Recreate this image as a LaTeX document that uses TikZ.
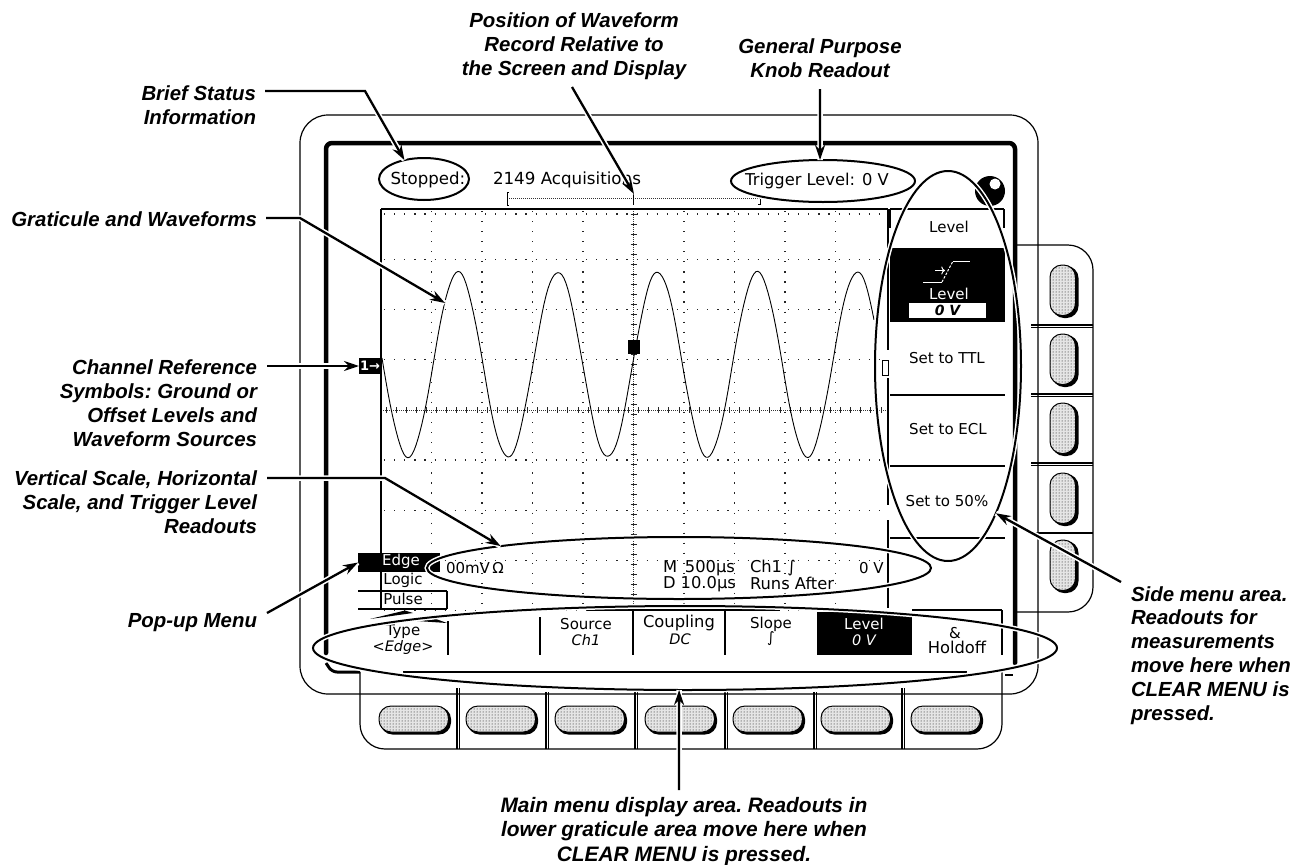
\documentclass[tikz,border=0pt]{standalone}
\usepackage{fontspec}
\usetikzlibrary{arrows.meta,patterns,shapes.geometric}
\setmainfont{Liberation Sans}
\newfontfamily\uifont{DejaVu Sans}
\tikzset{
  lab/.style={font=\frenchspacing\fontsize{20.4}{23.9}\selectfont\bfseries\itshape,inner sep=0pt,outer sep=0pt},
  labmain/.style={font=\frenchspacing\fontsize{20.9}{24.3}\selectfont\bfseries\itshape,inner sep=0pt,outer sep=0pt},
  ui/.style={font=\uifont\fontsize{15}{17}\selectfont,inner sep=0pt,outer sep=0pt},
  uib/.style={font=\uifont\fontsize{16.3}{17}\selectfont,inner sep=0pt,outer sep=0pt},
  uii/.style={font=\uifont\itshape\fontsize{14.5}{17}\selectfont,inner sep=0pt,outer sep=0pt},
  uiw/.style={ui,text=white},
  house/.style={line width=1.2pt,black},
  bezel/.style={line width=4.5pt,black,line cap=round},
  thin line/.style={line width=1.2pt,black},
  griddotv/.style={line width=1.1pt,dash pattern=on 1.2pt off 8.85pt,black!85},
  griddoth/.style={line width=1.1pt,dash pattern=on 1.2pt off 8.9pt,black!85},
  finedot/.style={line width=0.8pt,dash pattern=on 1pt off 1pt,black!80},
  oval/.style={shape=ellipse,draw=black,line width=2pt,inner sep=0pt,outer sep=0pt,
     preaction={draw=white,line width=5pt}},
  callout/.style={line width=2.3pt,black,-{Stealth[length=15pt,width=10pt]},
     preaction={draw=white,line width=5.5pt,-}},
  blackbox/.style={fill=black,inner sep=0pt,outer sep=0pt},
  btnshadow/.style={fill=black,rounded corners=12pt},
  btnface/.style={fill=black!10,draw=black,line width=1pt,rounded corners=12pt},
  btndots/.style={pattern=dots,pattern color=black,rounded corners=12pt},
}
\begin{document}
\begin{tikzpicture}[x=1pt,y=-1pt]
\useasboundingbox (0,0) rectangle (1294,865);
\fill[white] (0,0) rectangle (1294,865);

% housing
\draw[house,rounded corners=28pt] (300,115) rectangle (1038,694);
% side panel
\draw[house,rounded corners=25pt] (1015,245) -- (1093,245) -- (1093,612) -- (1015,612);
\draw[thin line] (1031,325) -- (1093,325) (1031,327.5) -- (1093,327.5);
\draw[thin line] (1031,394) -- (1093,394) (1031,396.5) -- (1093,396.5);
\draw[thin line] (1031,463) -- (1093,463) (1031,465.5) -- (1093,465.5);
\draw[thin line] (1031,533) -- (1093,533);
% bottom panel
\draw[house,rounded corners=25pt] (360,672) -- (360,749) -- (1002,749) -- (1002,672);
\foreach \x/\t in {457/688,546/692,635/692,725/692,814/692,902/688}{
  \draw[thin line] (\x,\t) -- (\x,749) (\x+2.5,\t) -- (\x+2.5,749);
}
% bezel
\draw[bezel,rounded corners=6pt] (326,653) -- (326,143) -- (1015,143) -- (1015,663);
\draw[line width=3pt,black,rounded corners=5pt] (326,663) -- (332,672) -- (360,672);
\draw[line width=1.8pt,black] (403,672) -- (967,672);
\draw[line width=2pt,black] (1005,675) -- (1013,675);
% knob
\fill[black] (990,191) circle[radius=15];
\fill[white] (995,184) circle[radius=5.5];

% side buttons
\foreach \a/\b in {265/318,334/387,403/456,473/526,540/593}{
  \fill[btnshadow] (1052,\a+1) rectangle (1078.5,\b);
  \draw[btnface] (1050,\a) rectangle (1075.5,\b-2.5);
  \fill[btndots] (1050,\a) rectangle (1075.5,\b-2.5);
}
% bottom buttons
\foreach \a in {379,466,555,645,733,821,911}{
  \fill[btnshadow] (\a+1.5,707) rectangle (\a+72,734.5);
  \draw[btnface] (\a,706) rectangle (\a+69.5,732);
  \fill[btndots] (\a,706) rectangle (\a+69.5,732);
}

% graticule
\draw[griddotv] foreach \i in {1,2,3,4,6,7,8,9} { (381+50.5*\i,211) -- (381+50.5*\i,610) };
\draw[griddoth] foreach \j in {1,2,3,5,6,7,8} { (384,209+50.2*\j) -- (886,209+50.2*\j) };
\draw[griddoth] (384,214) -- (886,214);
\draw[finedot] (633.5,209) -- (633.5,610);
\draw[finedot] (381,410) -- (886,410);
\foreach \i in {0,...,39}{ \draw[line width=0.7pt,black!85] (630.5,214+10*\i) -- (636.5,214+10*\i); }
\foreach \i in {0,...,49}{ \draw[line width=0.7pt,black!85] (386+10.1*\i,407) -- (386+10.1*\i,413); }
\draw[thin line] (381,209) -- (888,209);
\draw[thin line] (381,209) -- (381,608);
\draw[thin line] (888,209) -- (888,350) (888,378) -- (888,505) (888,520) -- (888,608);
\draw[line width=1pt,black] (882,360) rectangle (888,375);
% record bracket
\draw[finedot,line width=1pt] (507,198.5) -- (760,198.5);
\draw[line width=1pt,black] (509,192) -- (507,192) -- (507,205) -- (509,205);
\draw[line width=1pt,black] (760,199) -- (760,204) -- (758,204);
\draw[line width=1pt,black] (633.5,192) -- (633.5,205);
% waveform
\draw[line width=0.9pt,black,line join=round] plot[domain=382:874,samples=247]
   ({\x},{364.5-92.5*cos(3.607*(\x-458))+0.8*sin(\x*17)});

% side menu
\draw[thin line] (890,209) -- (1004,209) (1004,209) -- (1004,228) (890,209) -- (890,228);
\node[blackbox,minimum width=115pt,minimum height=74pt] (levelbox) at (947.5,285) {};
\node[fill=white,inner sep=0pt,minimum width=77pt,minimum height=15pt] (levelval) at (947.5,310.5)
   {\uifont\itshape\bfseries\fontsize{14}{15}\selectfont\textcolor{black}{0 V}};
\draw[white,line width=1pt] (923,282) -- (942,282);
\draw[white,line width=1pt,dash pattern=on 2.5pt off 1.5pt] (942,282) -- (953,261);
\draw[white,line width=1pt] (953,261) -- (970,261);
\draw[white,line width=1pt,->] (935,270.5) -- (945,270.5);
\node[uiw] (levelw) at (949,294) {Level};
\node[ui] (sidetitle) at (949,227) {Level};
\node[ui] (ttl) at (947,358) {Set to TTL};
\node[ui] (ecl) at (948,429) {Set to ECL};
\node[ui] (fifty) at (947,501) {Set to 50\%};
\draw[thin line] (890,395) -- (1005,395) (890,466) -- (1005,466) (890,538) -- (1005,538);

% popup menu
\node[blackbox,minimum width=82pt,minimum height=19pt] (edgebox) at (399,562.5) {};
\node[uiw] (edgetxt) at (401,561) {Edge};
\node[ui] (logic) at (403,580) {Logic};
\node[ui] (pulse) at (403,599) {Pulse};
\draw[thin line] (358,591) -- (447,591) (358,609) -- (447,609) (447,591) -- (447,609);
\fill[black] (370,619) -- (405,610.5) -- (413,613) -- cycle;
\fill[black] (417,621) -- (436,619) -- (447,623) -- cycle;

% lower graticule readouts
\node[ui,anchor=west] (vscale) at (446,568) {00mV\,Ω};
\node[uib,anchor=west] (mread) at (663,568) {M\, 500µs};
\node[uib,anchor=west] (dread) at (663,584) {D 10.0µs};
\node[uib,anchor=west] (chread) at (750,568) {Ch1 \itshape∫};
\node[uib,anchor=west] (runs) at (750,583) {Runs After};
\node[ui,anchor=west] (zerov) at (859,568) {0 V};

% main menu
\draw[thin line] (587,610) -- (780,610) (912,610) -- (1002,610) (1002,610) -- (1002,655);
\draw[thin line] (448,621) -- (448,655) (540,617) -- (540,655) (633,610) -- (633,655) (725,610) -- (725,655);
\node[ui] (typetxt) at (403,632) {Type};
\node[uii] (typeval) at (403,647) {<Edge>};
\node[ui] (source) at (586,624) {Source};
\node[uii] (sourceval) at (586,640) {Ch1};
\node[uib] (coupling) at (679,623) {Coupling};
\node[uii] (couplingval) at (680,639) {DC};
\node[ui] (slope) at (771,624) {Slope};
\node[uii] (slopeval) at (771,639) {∫};
\node[blackbox,minimum width=95pt,minimum height=43pt] (menulevel) at (864.5,633.5) {};
\node[uiw] (menuleveltxt) at (864,624) {Level};
\node[uii,text=white] (menulevelval) at (864,640) {0 V};
\node[ui] (amp) at (955,633) {\&};
\node[uib] (holdoff) at (957,647) {Holdoff};

% top readouts
\node[uib,anchor=west,font=\uifont\fontsize{16.7}{17}\selectfont] (acq) at (493,180) {2149 Acquisitions};
\node[oval,minimum width=90pt,minimum height=42pt] (stopped) at (424,179) {};
\node[oval,minimum width=184pt,minimum height=42pt] (trigger) at (823,181) {};
\node[uib,font=\uifont\fontsize{16.6}{17}\selectfont] (stoppedtxt) at (428,180) {Stopped:};
\node[uib] (triggertxt) at (817,181) {Trigger Level: 0 V};
\node[oval,minimum width=146pt,minimum height=390pt] (sideoval) at (948,366) {};
\node[oval,minimum width=504pt,minimum height=62pt] (readoval) at (679,568) {};
\node[oval,minimum width=744pt,minimum height=84pt] (menuoval) at (685,648) {};

% markers
\node[blackbox,minimum width=22pt,minimum height=16pt,text=white,font=\uifont\bfseries\fontsize{13}{14}\selectfont] (chref) at (370,366) {1→};
\node[blackbox,minimum width=12pt,minimum height=14pt] (trigmark) at (633.5,347) {};

% labels
\node[lab,align=right,anchor=east] (lbrief) at (256,105.5) {Brief Status\\Information};
\node[lab,anchor=east] (lgrat) at (257,219) {Graticule and Waveforms};
\node[lab,align=right,anchor=east] (lchan) at (257,403) {Channel Reference\\Symbols: Ground or\\Offset Levels and\\Waveform Sources};
\node[lab,align=right,anchor=east] (lvert) at (257,502.5) {Vertical Scale, Horizontal\\Scale, and Trigger Level\\Readouts};
\node[lab,anchor=east] (lpop) at (257,623) {Pop-up Menu};
\node[lab,align=center] (lpos) at (574,46) {Position of Waveform\\Record Relative to\\the Screen and Display};
\node[lab,align=center] (lgen) at (820,58) {General Purpose\\Knob Readout};
\node[labmain,align=center] (lmain) at (684,831.5) {Main menu display area. Readouts in\\lower graticule area move here when\\CLEAR MENU is pressed.};
\node[lab,align=left,anchor=west] (lside) at (1131,655.5) {Side menu area.\\Readouts for\\measurements\\move here when\\CLEAR MENU is\\pressed.};

% connector ends
\coordinate (c1) at (265,91);
\coordinate (c1b) at (365,91);
\coordinate (c2) at (266,218);
\coordinate (c2b) at (300,218);
\coordinate (c2t) at (445,303);
\coordinate (c3) at (267,366);
\coordinate (c4) at (267,478);
\coordinate (c4b) at (385,478);
\coordinate (c5) at (267,613);
\coordinate (c6) at (572,87);
\coordinate (c6t) at (634,194);
\coordinate (c7) at (820,89);
\coordinate (c8) at (1121,582);
\coordinate (c9) at (679,790);

\draw[callout] (c1) -- (c1b) -- (stopped.136);
\draw[callout] (c2) -- (c2b) -- (c2t);
\draw[callout] (c3) -- (chref.west);
\draw[callout] (c4) -- (c4b) -- (readoval.173);
\draw[callout] (c5) -- (edgebox.west);
\draw[callout] (c6) -- (c6t);
\draw[callout] (c7) -- (trigger.98);
\draw[callout] (c8) -- (sideoval.288);
\draw[callout] (c9) -- (menuoval.262);
\end{tikzpicture}
\end{document}
